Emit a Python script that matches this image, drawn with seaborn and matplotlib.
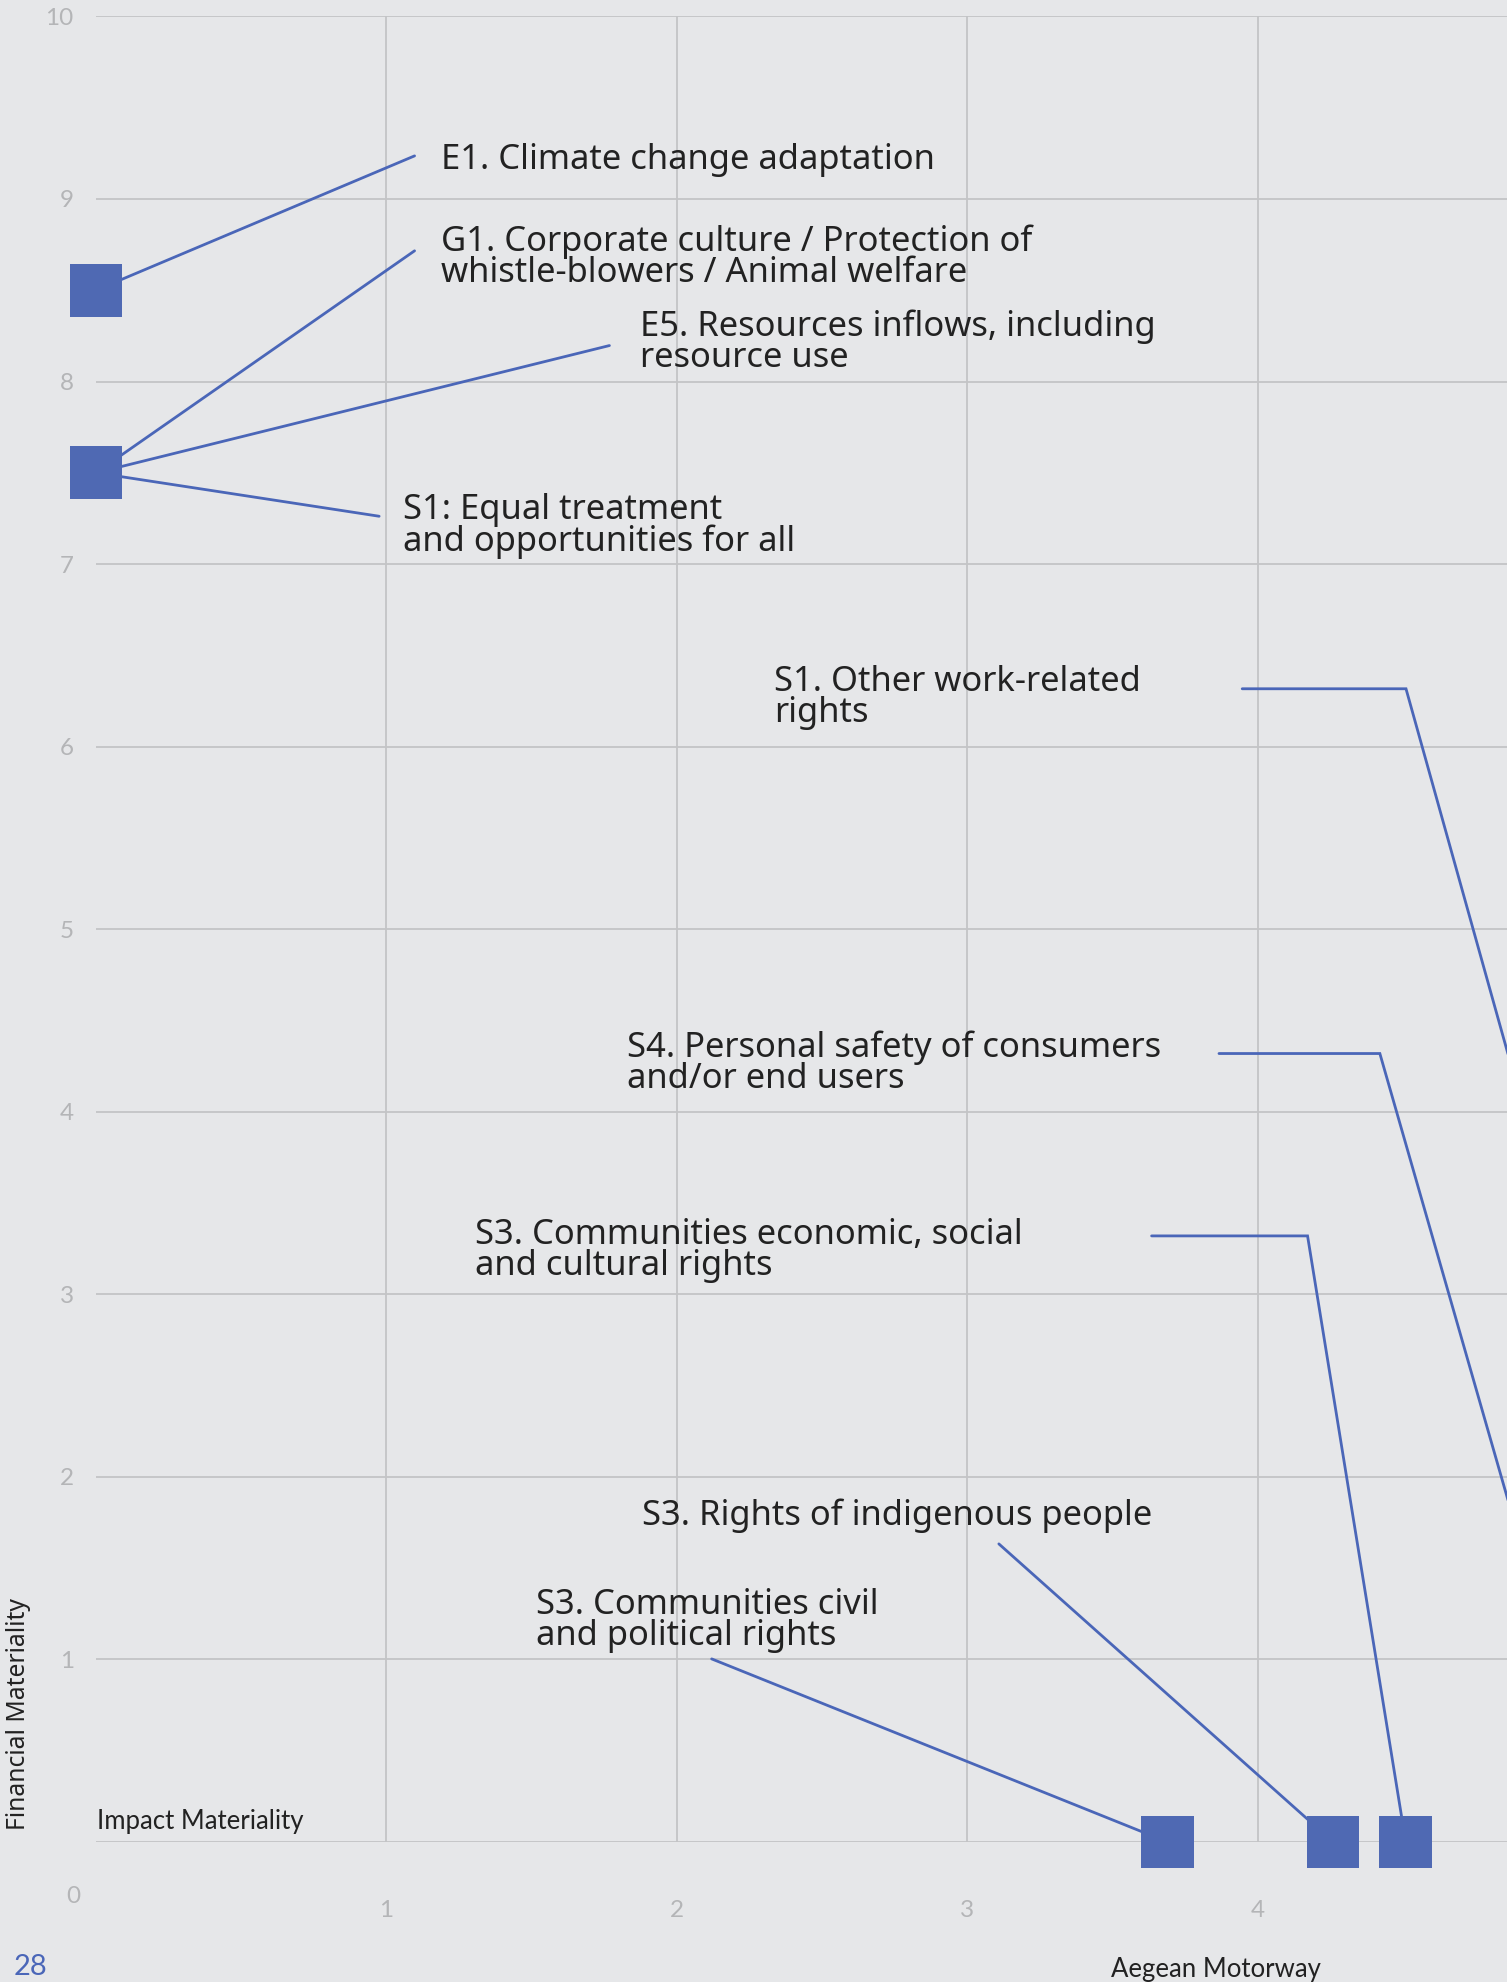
import matplotlib
matplotlib.use("Agg")
import matplotlib.pyplot as plt
import seaborn as sns
import pandas as pd

# ---- data ----
topics = [
    "E1. Climate change adaptation",
    "G1. Corporate culture / Protection of\nwhistle-blowers / Animal welfare",
    "E5. Resources inflows, including\nresource use",
    "S1: Equal treatment\nand opportunities for all",
    "S1. Other work-related\nrights",
    "S4. Personal safety of consumers\nand/or end users",
    "S3. Communities economic, social\nand cultural rights",
    "S3. Rights of indigenous people",
    "S3. Communities civil\nand political rights",
]
impact = [0.0, 0.0, 0.0, 0.0, 5.62, 5.20, 4.51, 4.26, 3.69]
financial = [8.5, 7.5, 7.5, 7.5, 0.0, 0.0, 0.0, 0.0, 0.0]
x_ticks = [1, 2, 3, 4]
y_ticks = [1, 2, 3, 4, 5, 6, 7, 8, 9, 10]

# label anchor (text) and leader start (data coords), optional elbow x
label_x = [1.189, 1.189, 1.872, 1.058, 2.334, 1.829, 1.306, 1.881, 1.515]
label_y = [9.216, 8.682, 8.215, 7.208, 6.267, 4.265, 3.240, 1.786, 1.211]
lead_x = [1.097, 1.097, 1.768, 0.975, 3.947, 3.867, 3.635, 3.109, 2.120]
lead_y = [9.236, 8.716, 8.197, 7.262, 6.317, 4.319, 3.320, 1.633, 1.003]
elbow_x = [None, None, None, None, 4.511, 4.421, 4.172, None, None]

df = pd.DataFrame({"topic": topics, "impact": impact, "financial": financial})

BG = "#e6e7e9"
GRID = "#c3c4c6"
BLUE = "#4f69b3"
LINE = "#4a66b8"
TICK = "#b4b5b7"
TXT = "#222222"

sns.set_theme(style="white")
plt.rcParams["font.family"] = ["Noto Sans", "DejaVu Sans"]
COND = ["Lato", "DejaVu Sans"]

fig = plt.figure(figsize=(15.07, 19.82), dpi=100, facecolor=BG)
ax = fig.add_axes([96 / 1507, 140 / 1982, 1 - 96 / 1507, 1825.6 / 1982])
ax.set_facecolor(BG)
ax.set_xlim(0, 1411 / 290.4)
ax.set_ylim(0, 10)

for s in ax.spines.values():
    s.set_visible(False)

# grid
for yv in [0] + y_ticks:
    ax.axhline(yv, color=GRID, lw=1.3, zorder=0)
for xv in x_ticks:
    ax.axvline(xv, color=GRID, lw=1.3, zorder=0)

# leader lines
for i in range(len(topics)):
    if elbow_x[i] is None:
        xs = [lead_x[i], impact[i]]
        ys = [lead_y[i], financial[i]]
    else:
        xs = [lead_x[i], elbow_x[i], impact[i]]
        ys = [lead_y[i], lead_y[i], financial[i]]
    ax.plot(xs, ys, color=LINE, lw=2.0, zorder=2, clip_on=False, solid_joinstyle="miter")
    ax.text(label_x[i], label_y[i], topics[i], ha="left", va="center",
            fontsize=24.9, color=TXT, linespacing=0.88, zorder=4)

# markers
sns.scatterplot(data=df, x="impact", y="financial", marker="s", s=38 ** 2,
                color=BLUE, edgecolor="none", linewidth=0, ax=ax, zorder=3,
                clip_on=False, legend=False)

ax.set_xticks(x_ticks)
ax.set_yticks(y_ticks)
ax.set_xticklabels([str(v) for v in x_ticks], family=COND)
ax.set_yticklabels([str(v) for v in y_ticks], family=COND)
ax.tick_params(axis="both", length=0, colors=TICK, labelsize=17.5)
ax.tick_params(axis="x", pad=42)
ax.tick_params(axis="y", pad=16)
ax.set_xlabel("")
ax.set_ylabel("")

ax.text(-0.077, -0.30, "0", ha="center", va="center", color=TICK, fontsize=17.5,
        family=COND, transform=ax.transData, clip_on=False)

fig.text(97 / 1507, 1 - 1821 / 1982, "Impact Materiality", ha="left", va="center",
         fontsize=18.5, color=TXT, family=COND)
fig.text(19 / 1507, 1 - 1714 / 1982, "Financial Materiality", ha="center", va="center",
         rotation=90, fontsize=17.8, color=TXT)
fig.text(14 / 1507, 1 - 1967 / 1982, "28", ha="left", va="center",
         fontsize=21, color="#4a66b8", family=COND)
fig.text(1216 / 1507, 1 - 1969 / 1982, "Aegean Motorway", ha="center", va="center",
         fontsize=18.5, color=TXT, family=COND)

fig.savefig("out.png", dpi=100, facecolor=BG)
